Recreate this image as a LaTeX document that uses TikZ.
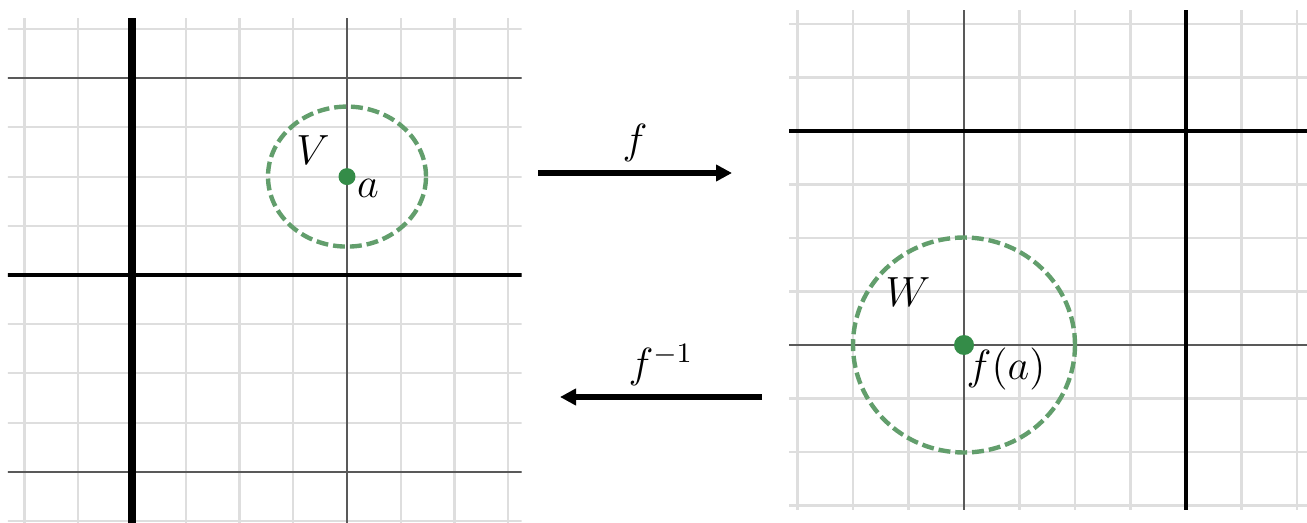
\documentclass[tikz,border=0pt]{standalone}
\usetikzlibrary{arrows.meta,positioning}
\definecolor{nbgreen}{RGB}{98,158,108}
\definecolor{dotgreen}{RGB}{52,140,72}
\begin{document}
\begin{tikzpicture}[font=\fontsize{11.5}{13}\selectfont,>={Triangle[length=1.6mm,width=1.6mm]},
  mn/.style={black!13,line width=0.6pt},
  md/.style={black!65,line width=0.6pt},
  ax/.style={black,line width=1.2pt},
  nb/.style={draw=nbgreen,line width=1.25pt,dash pattern=on 3.4pt off 1.4pt},
  dot/.style={circle,fill=dotgreen,inner sep=0pt,minimum size=#1},
  arr/.style={->,line width=1.5pt}]
\useasboundingbox (0,0) rectangle (13.07,5.22);
% left plane
\begin{scope}[shift={(1.32,2.47)},x=0.5375cm,y=0.492cm]
  \clip (-2.31,-5.1) rectangle (7.25,5.22);
  \foreach \i in {-2,...,7} \draw[mn] (\i,-5.2) -- (\i,5.3);
  \foreach \j in {-5,...,5} \draw[mn] (-2.4,\j) -- (7.3,\j);
  \draw[md] (4,-5.2) -- (4,5.3) (-2.4,4) -- (7.3,4) (-2.4,-4) -- (7.3,-4);
  \draw[ax,line width=2pt] (0,-5.2) -- (0,5.3);
  \draw[ax] (-2.4,0) -- (7.3,0);
  \draw[nb] (4,2) ellipse[x radius=0.79cm,y radius=0.70cm];
  \node[dot=1.7mm] (a) at (4,2) {};
\end{scope}
% right plane
\begin{scope}[shift={(11.86,3.91)},x=0.555cm,y=0.535cm]
  \clip (-7.15,-7.08) rectangle (2.18,2.26);
  \foreach \i in {-7,...,2} \draw[mn] (\i,-7.2) -- (\i,2.3);
  \foreach \j in {-7,...,2} \draw[mn] (-7.2,\j) -- (2.3,\j);
  \draw[md] (-4,-7.2) -- (-4,2.3) (-7.2,-4) -- (2.3,-4);
  \draw[ax] (0,-7.2) -- (0,2.3) (-7.2,0) -- (2.3,0);
  \draw[nb] (-4,-4) ellipse[x radius=1.11cm,y radius=1.075cm];
  \node[dot=2mm] (fa) at (-4,-4) {};
\end{scope}
\node at ([shift={(-0.34,0.27)}]a) {$V$};
\node at ([shift={(0.21,-0.12)}]a) {$a$};
\node at ([shift={(-0.56,0.53)}]fa) {$W$};
\node at ([shift={(0.42,-0.24)}]fa) {$f(a)$};
% maps
\coordinate (s1) at (5.38,3.49); \coordinate (e1) at (7.32,3.49);
\coordinate (s2) at (7.62,1.25); \coordinate (e2) at (5.60,1.25);
\draw[arr] (s1) -- node[above=-1pt]{$f$} (e1);
\draw[arr] (s2) -- node[above=-1pt]{$f^{-1}$} (e2);
\end{tikzpicture}
\end{document}
